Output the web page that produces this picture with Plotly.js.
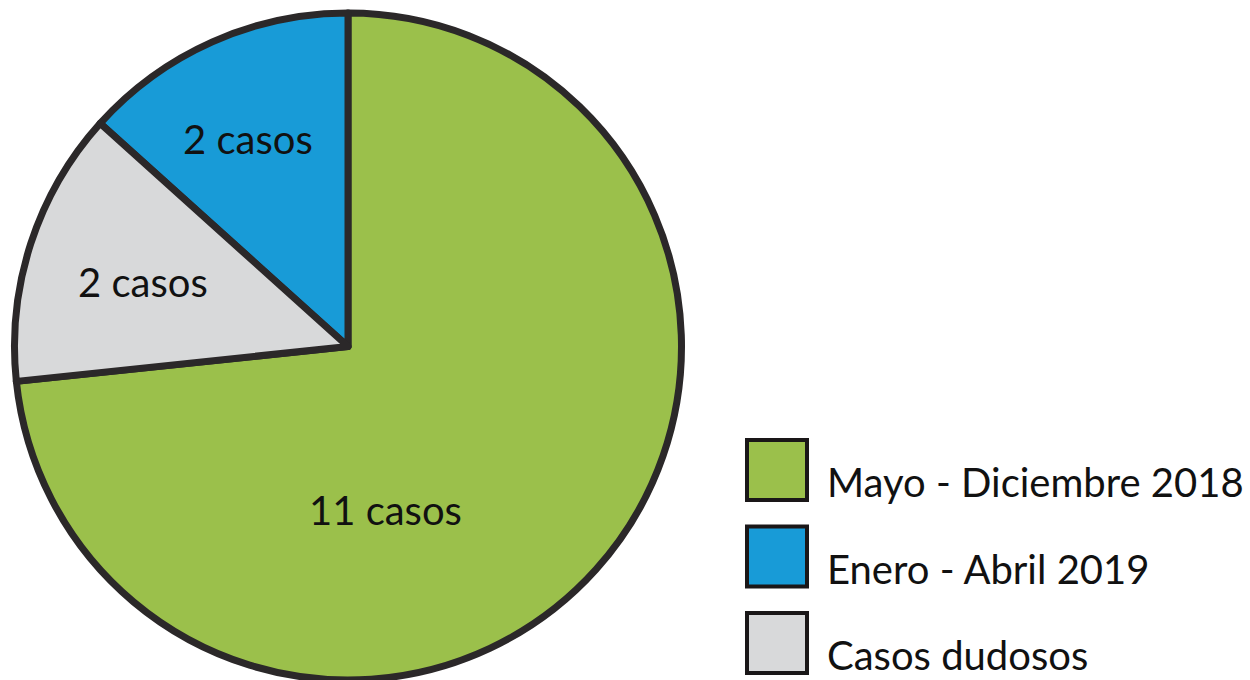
<!DOCTYPE html>
<html>
<head>
<meta charset="utf-8">
<script src="https://cdn.plot.ly/plotly-3.0.1.min.js"></script>
<style>html,body{margin:0;padding:0;background:#fff}#chart{width:1250px;height:680px}</style>
</head>
<body>
<div id="chart"></div>
<script>
// Data
const labels = ["Mayo - Diciembre 2018", "Enero - Abril 2019", "Casos dudosos"];
const values = [11, 2, 2];
const colors = ["#9bc04b", "#189bd7", "#d8d9da"];

const W = 1250, H = 680;
const outline = "#2b2829";
const FONT = "Lato, sans-serif";

const trace = {
  type: "pie",
  labels: labels,
  values: values,
  sort: false,
  direction: "counterclockwise",
  rotation: 0,
  marker: { colors: colors, line: { color: outline, width: 7 } },
  textinfo: "none",
  hoverinfo: "label+value",
  showlegend: false,
  domain: { x: [13 / W, 683 / W], y: [0, 1 - 13 / H] }
};

const annotations = [];
const shapes = [];

// Slice labels (text from the values array; placement in pixels)
const sliceLabelPos = [[385, 510], [248, 139], [143, 282]];
values.forEach((v, i) => {
  annotations.push({
    xref: "paper", yref: "paper",
    x: sliceLabelPos[i][0] / W, y: 1 - sliceLabelPos[i][1] / H,
    xanchor: "center", yanchor: "middle",
    text: v + " casos", showarrow: false,
    font: { family: FONT, size: 40, color: "#111" }
  });
});

// Manual legend built from labels and colors
const legX0 = 747, legSize = 60, legY0 = 440, legStep = 86.5, textX = 825;
labels.forEach((lab, i) => {
  const top = legY0 + i * legStep;
  shapes.push({
    type: "rect", xref: "paper", yref: "paper",
    x0: legX0 / W, x1: (legX0 + legSize) / W,
    y0: 1 - (top + legSize) / H, y1: 1 - top / H,
    fillcolor: colors[i], line: { color: "#1a1718", width: 4 }
  });
  annotations.push({
    xref: "paper", yref: "paper",
    x: textX / W, y: 1 - (top + legSize / 2 + 12) / H,
    xanchor: "left", yanchor: "middle",
    text: lab, showarrow: false,
    font: { family: FONT, size: 40, color: "#111" }
  });
});

const layout = {
  width: W, height: H,
  margin: { l: 0, r: 0, t: 0, b: 0 },
  paper_bgcolor: "#fff",
  showlegend: false,
  shapes: shapes,
  annotations: annotations
};

Plotly.newPlot("chart", [trace], layout, { displayModeBar: false, staticPlot: true });
</script>
</body>
</html>
